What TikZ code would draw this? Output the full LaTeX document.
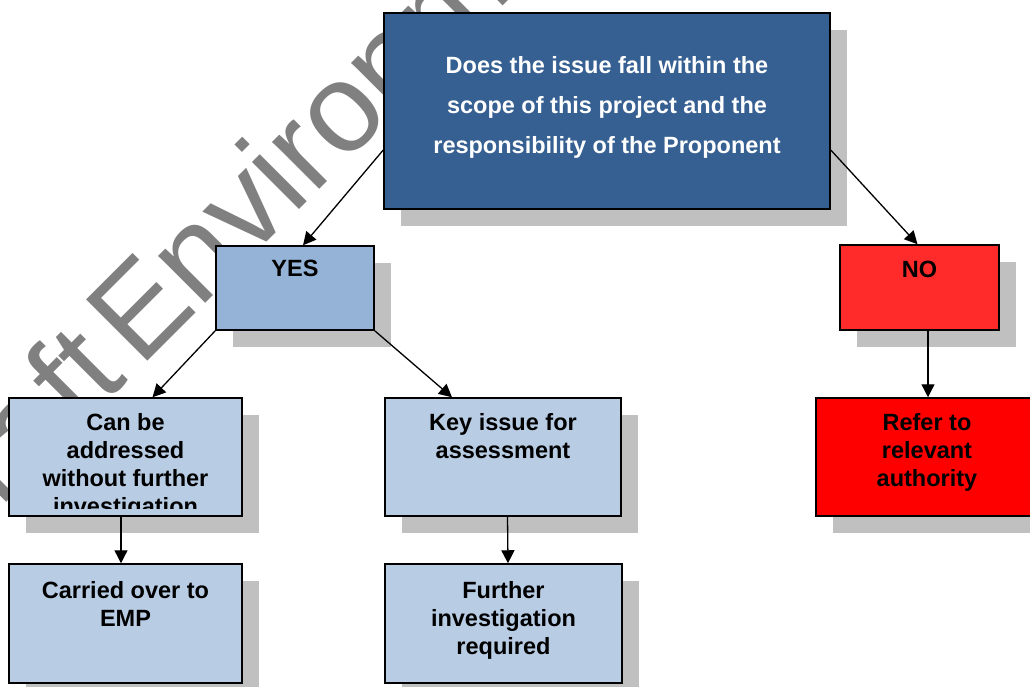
\documentclass[tikz,border=0pt]{standalone}
\usepackage{fontspec}
\setmainfont{Liberation Sans}
\usetikzlibrary{positioning,shadows,arrows.meta}

\definecolor{darkblue}{HTML}{366092}
\definecolor{midblue}{HTML}{95B3D7}
\definecolor{paleblue}{HTML}{B8CCE4}
\definecolor{lightred}{HTML}{FF2A2A}
\definecolor{shadowgray}{HTML}{C0C0C0}
\definecolor{markgray}{HTML}{808080}

\tikzset{
  box/.style={draw, line width=1.5pt, inner sep=0pt,
    general shadow={fill=shadowgray, shadow xshift=17pt, shadow yshift=-17pt}},
  boxtext/.style={inner sep=0pt, align=center,
    font=\bfseries\fontsize{23.5}{28}\selectfont},
  watermark/.style={text=markgray, rotate=45, inner sep=0pt,
    font=\fontsize{126}{126}\selectfont},
  arrow/.style={->, line width=1.3pt},
}

\begin{document}
\begin{tikzpicture}[x=1pt, y=-1pt, >={Triangle[length=13pt, width=13pt]}]
  \useasboundingbox (0,0) rectangle (1030,686);
  \clip (0,0) rectangle (1030,686);

  % watermark
  \node[watermark, anchor=base west] (markenv) at (140,369) {Environmental};
  \node[watermark, anchor=base east] (markdraft) at (129,380) {Draft};

  % question box
  \node[box, fill=darkblue, minimum width=446pt, minimum height=196pt] (question) at (607,111) {};
  \node[boxtext, text=white, font=\bfseries\fontsize{23.5}{40}\selectfont,
    below=44pt of question.north] (questiontext)
    {Does the issue fall within the\\scope of this project and the\\responsibility of the Proponent};

  % yes branch
  \node[box, fill=midblue, minimum width=158pt, minimum height=84pt] (yes) at (295,288) {};
  \node[boxtext, below=15pt of yes.north] (yestext) {YES};

  \node[box, fill=paleblue, minimum width=233pt, minimum height=118pt] (can) at (125.5,457) {};
  \begin{scope}
    \clip (can.north west) rectangle ([yshift=8pt]can.south east);
    \node[boxtext, below=16pt of can.north] (cantext)
      {Can be\\addressed\\without further\\investigation};
  \end{scope}

  \node[box, fill=paleblue, minimum width=233pt, minimum height=119pt] (carried) at (125.5,623.5) {};
  \node[boxtext, below=18pt of carried.north] (carriedtext) {Carried over to\\EMP};

  \node[box, fill=paleblue, minimum width=236pt, minimum height=118pt] (key) at (503,457) {};
  \node[boxtext, below=16pt of key.north] (keytext) {Key issue for\\assessment};

  \node[box, fill=paleblue, minimum width=237pt, minimum height=119pt] (further) at (503.5,623.5) {};
  \node[boxtext, below=18pt of further.north] (furthertext) {Further\\investigation\\required};

  % no branch
  \node[box, fill=lightred, minimum width=159pt, minimum height=85pt] (no) at (919.5,287.5) {};
  \node[boxtext, below=17pt of no.north] (notext) {NO};

  \node[box, fill=red, minimum width=222pt, minimum height=118pt] (refer) at (927,457) {};
  \node[boxtext, below=16pt of refer.north] (refertext) {Refer to\\relevant\\authority};

  % connectors
  \draw[arrow] ([yshift=-39pt]question.west) -- ([xshift=8pt]yes.north);
  \draw[arrow] ([yshift=-39pt]question.east) -- ([xshift=-2pt]no.north);
  \draw[arrow] (yes.south west) -- ([xshift=27pt]can.north);
  \draw[arrow] (yes.south east) -- ([xshift=-51pt]key.north);
  \draw[arrow] ([xshift=-4.5pt]can.south) -- ([xshift=-4.5pt]carried.north);
  \draw[arrow] ([xshift=4.5pt]key.south) -- ([xshift=4.5pt]further.north);
  \draw[arrow] ([xshift=8.5pt]no.south) -- ([xshift=1pt]refer.north);
\end{tikzpicture}
\end{document}
